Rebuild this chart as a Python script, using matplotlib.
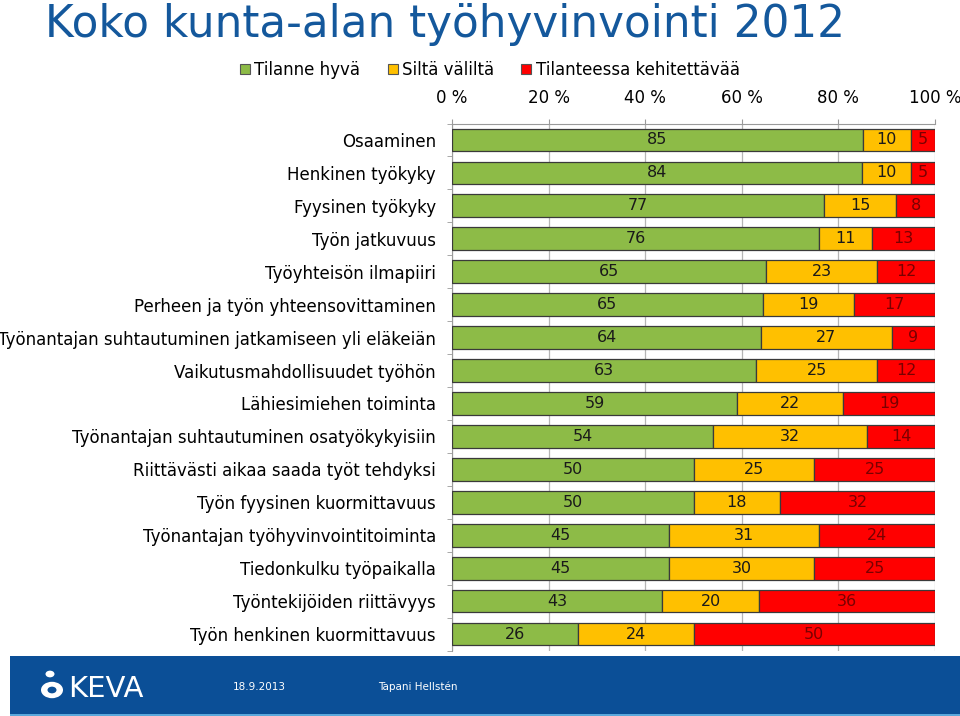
import matplotlib
matplotlib.use('Agg')
import matplotlib.pyplot as plt
import numpy as np
from matplotlib.patches import Rectangle, Circle, Patch

categories = [
    'Osaaminen',
    'Henkinen työkyky',
    'Fyysinen työkyky',
    'Työn jatkuvuus',
    'Työyhteisön ilmapiiri',
    'Perheen ja työn yhteensovittaminen',
    'Työnantajan suhtautuminen jatkamiseen yli eläkeiän',
    'Vaikutusmahdollisuudet työhön',
    'Lähiesimiehen toiminta',
    'Työnantajan suhtautuminen osatyökykyisiin',
    'Riittävästi aikaa saada työt tehdyksi',
    'Työn fyysinen kuormittavuus',
    'Työnantajan työhyvinvointitoiminta',
    'Tiedonkulku työpaikalla',
    'Työntekijöiden riittävyys',
    'Työn henkinen kuormittavuus',
]
good = [85, 84, 77, 76, 65, 65, 64, 63, 59, 54, 50, 50, 45, 45, 43, 26]
middle = [10, 10, 15, 11, 23, 19, 27, 25, 22, 32, 25, 18, 31, 30, 20, 24]
improve = [5, 5, 8, 13, 12, 17, 9, 12, 19, 14, 25, 32, 24, 25, 36, 50]
series_names = ['Tilanne hyvä', 'Siltä väliltä', 'Tilanteessa kehitettävää']
xticks = [0, 20, 40, 60, 80, 100]
xtick_labels = ['0 %', '20 %', '40 %', '60 %', '80 %', '100 %']
title = 'Koko kunta-alan työhyvinvointi 2012'
footer_date = '18.9.2013'
footer_author = 'Tapani Hellstén'

plt.rcParams['font.family'] = ['DejaVu Sans']

W, H = 960, 716
fig = plt.figure(figsize=(W / 100, H / 100), dpi=100)
ax = fig.add_axes([452 / W, 1 - 650.5 / H, (935 - 452) / W, (650.5 - 123.5) / H])

g = np.array(good, float)
m = np.array(middle, float)
r = np.array(improve, float)
tot = g + m + r
series = [g, m, r]
colors = ['#8dbb47', '#ffc000', '#ff0000']
tcolors = ['#1a1a1a', '#1a1a1a', '#7a0000']

n = len(categories)
y = np.arange(n)
left = np.zeros(n)
handles = []
for vals, col, tc, name in zip(series, colors, tcolors, series_names):
    pct = vals / tot * 100
    ax.barh(y, pct, left=left, height=0.69, color=col, edgecolor='#3a3a3a',
            linewidth=0.9, zorder=3)
    for yi, l, p, v in zip(y, left, pct, vals):
        ax.text(l + p / 2, yi, f'{int(v)}', ha='center', va='center',
                fontsize=11.5, color=tc, zorder=4)
    left = left + pct
    handles.append(Patch(facecolor=col, edgecolor='#555555', linewidth=0.8, label=name))

ax.set_xlim(0, 100)
ax.set_ylim(n - 0.5, -0.5)
ax.xaxis.tick_top()
ax.set_xticks(xticks)
ax.set_xticklabels(xtick_labels, fontsize=12)
ax.tick_params(axis='x', direction='out', length=3.6, color='#9a9a9a', pad=8)
ax.set_yticks(y)
ax.set_yticklabels(categories, fontsize=12)
ax.tick_params(axis='y', length=0, pad=11.5)
ax.set_yticks(np.arange(n + 1) - 0.5, minor=True)
ax.tick_params(axis='y', which='minor', length=3.6, color='#9a9a9a')
ax.grid(axis='x', color='#b5b5b5', linewidth=0.9, zorder=0)
ax.set_axisbelow(True)
for s in ['right', 'bottom']:
    ax.spines[s].set_visible(False)
for s in ['top', 'left']:
    ax.spines[s].set_color('#9a9a9a')

fig.text(45 / W, 1 - 37 / H, title, fontsize=31.5, color='#14589c', ha='left', va='baseline')

fig.legend(handles=handles, loc='center left', bbox_to_anchor=(240 / W, 1 - 70 / H),
           ncol=3, frameon=False, fontsize=12, handlelength=0.6, handleheight=0.6,
           handletextpad=0.25, columnspacing=1.65, borderaxespad=0, borderpad=0)

# footer
fig.patches.append(Rectangle((10 / W, 0), 950 / W, 60 / H, transform=fig.transFigure,
                             facecolor='#0b4f97', edgecolor='none'))
fig.patches.append(Rectangle((10 / W, 0), 950 / W, 2 / H, transform=fig.transFigure,
                             facecolor='#5aa8dc', edgecolor='none'))
# logo
fig.patches.append(Circle((50 / W, 1 - 674 / H), 4.5 / W, transform=fig.transFigure,
                          facecolor='white', edgecolor='none'))
fig.patches.append(Circle((52 / W, 1 - 690 / H), 11 / W, transform=fig.transFigure,
                          facecolor='white', edgecolor='none'))
fig.patches.append(Circle((52 / W, 1 - 690 / H), 4.5 / W, transform=fig.transFigure,
                          facecolor='#0b4f97', edgecolor='none'))
fig.text(68 / W, 1 - 689 / H, 'KEVA', fontsize=21, color='white',
         ha='left', va='center')
fig.text(233 / W, 1 - 687 / H, footer_date, fontsize=7.5, color='white', ha='left', va='center')
fig.text(378 / W, 1 - 687 / H, footer_author, fontsize=7.5, color='white', ha='left', va='center')

fig.savefig('out.png', dpi=100, facecolor='white')
